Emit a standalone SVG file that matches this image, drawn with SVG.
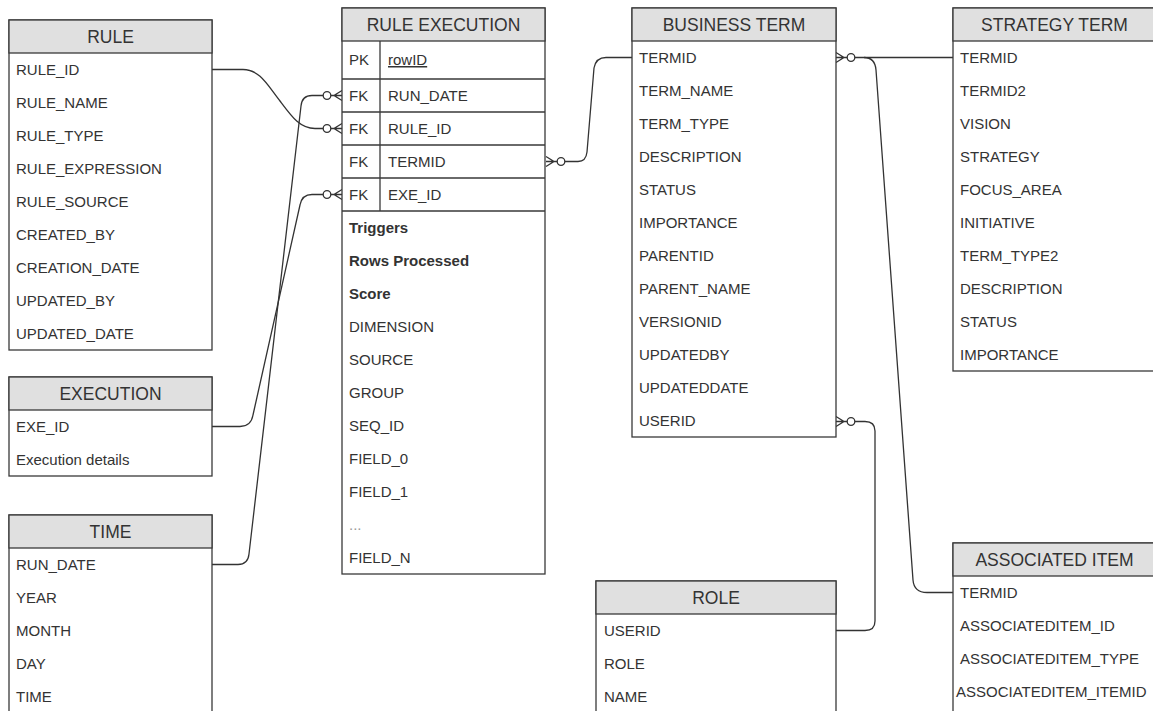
<svg xmlns="http://www.w3.org/2000/svg" width="1153" height="711" viewBox="0 0 1153 711">
<style>
  .box{fill:#ffffff;stroke:#3a3a3a;stroke-width:1.3}
  .hdr{fill:#e0e0e0;stroke:#3a3a3a;stroke-width:1.3}
  .sep{stroke:#3a3a3a;stroke-width:1.3;fill:none}
  .ht{font-family:"Liberation Sans",Arial,sans-serif;font-size:17.5px;fill:#333;text-anchor:middle}
  .t{font-family:"Liberation Sans",Arial,sans-serif;font-size:15px;fill:#333}
  .b{font-weight:bold}
  .dim{fill:#999}
  .u{text-decoration:underline}
  .ln{fill:none;stroke:#333;stroke-width:1.3}
  .cf{fill:none;stroke:#333;stroke-width:1.3}
  .cc{fill:#fff;stroke:#333;stroke-width:1.3}
</style>
<defs>
  <g id="crow">
    <path class="cf" d="M0,-5 L-8,0 L0,5 M0,0 L-11,0"/>
    <circle class="cc" cx="-15" cy="0" r="3.8"/>
  </g>
</defs>
<rect width="1153" height="711" fill="#ffffff"/>

<g id="connectors">
  <path class="ln" d="M212,69.5 H243 C260,69.5 268,86 280,101 C292,117 300,128.5 315,128.5 H323"/>
  <path class="ln" d="M212,564.5 H238 Q248,564.5 249,554 L301,106 Q302,95.5 312,95.5 H323"/>
  <path class="ln" d="M212,426.5 H240 Q251,426.5 253,415 L300,205 Q302,194.5 312,194.5 H323"/>
  <path class="ln" d="M565,161.5 H578 Q586,161.5 587,152 L594,68 Q596,57.5 606,57.5 H632"/>
  <path class="ln" d="M855,57.5 H953"/>
  <path class="ln" d="M864,57.5 Q875,57.5 876,70 L913,580 Q914,592.5 927,592.5 H953"/>
  <path class="ln" d="M855,421.5 H865 Q875,421.5 875,431 V621 Q875,630.5 865,630.5 H836"/>
  <use href="#crow" transform="translate(342,95.5)"/>
  <use href="#crow" transform="translate(342,128.5)"/>
  <use href="#crow" transform="translate(342,194.5)"/>
  <use href="#crow" transform="translate(546,161.5) scale(-1,1)"/>
  <use href="#crow" transform="translate(836,57.5) scale(-1,1)"/>
  <use href="#crow" transform="translate(836,421.5) scale(-1,1)"/>
</g>

<g id="rule">
  <rect class="box" x="9" y="20" width="203" height="330"/>
  <rect class="hdr" x="9" y="20" width="203" height="33"/>
  <text class="ht" x="110.5" y="42.5">RULE</text>
  <text class="t" x="16" y="74.5">RULE_ID</text>
  <text class="t" x="16" y="107.5">RULE_NAME</text>
  <text class="t" x="16" y="140.5">RULE_TYPE</text>
  <text class="t" x="16" y="173.5">RULE_EXPRESSION</text>
  <text class="t" x="16" y="206.5">RULE_SOURCE</text>
  <text class="t" x="16" y="239.5">CREATED_BY</text>
  <text class="t" x="16" y="272.5">CREATION_DATE</text>
  <text class="t" x="16" y="305.5">UPDATED_BY</text>
  <text class="t" x="16" y="338.5">UPDATED_DATE</text>
</g>

<g id="execution">
  <rect class="box" x="9" y="377" width="203" height="99"/>
  <rect class="hdr" x="9" y="377" width="203" height="33"/>
  <text class="ht" x="110.5" y="399.5">EXECUTION</text>
  <text class="t" x="16" y="431.5">EXE_ID</text>
  <text class="t" x="16" y="464.5">Execution details</text>
</g>

<g id="time">
  <rect class="box" x="9" y="515" width="203" height="210"/>
  <rect class="hdr" x="9" y="515" width="203" height="33"/>
  <text class="ht" x="110.5" y="537.5">TIME</text>
  <text class="t" x="16" y="569.5">RUN_DATE</text>
  <text class="t" x="16" y="602.5">YEAR</text>
  <text class="t" x="16" y="635.5">MONTH</text>
  <text class="t" x="16" y="668.5">DAY</text>
  <text class="t" x="16" y="701.5">TIME</text>
</g>

<g id="rule-execution">
  <rect class="box" x="342" y="8" width="203" height="566"/>
  <rect class="hdr" x="342" y="8" width="203" height="33"/>
  <text class="ht" x="443.5" y="30.5">RULE EXECUTION</text>
  <path class="sep" d="M342,79 H545 M342,112 H545 M342,145 H545 M342,178 H545 M342,211 H545 M380,41 V211"/>
  <text class="t" x="349" y="65">PK</text>
  <text class="t u" x="388" y="65">rowID</text>
  <text class="t" x="349" y="100.5">FK</text>
  <text class="t" x="388" y="100.5">RUN_DATE</text>
  <text class="t" x="349" y="133.5">FK</text>
  <text class="t" x="388" y="133.5">RULE_ID</text>
  <text class="t" x="349" y="166.5">FK</text>
  <text class="t" x="388" y="166.5">TERMID</text>
  <text class="t" x="349" y="199.5">FK</text>
  <text class="t" x="388" y="199.5">EXE_ID</text>
  <text class="t b" x="349" y="232.5">Triggers</text>
  <text class="t b" x="349" y="265.5">Rows Processed</text>
  <text class="t b" x="349" y="298.5">Score</text>
  <text class="t" x="349" y="331.5">DIMENSION</text>
  <text class="t" x="349" y="364.5">SOURCE</text>
  <text class="t" x="349" y="397.5">GROUP</text>
  <text class="t" x="349" y="430.5">SEQ_ID</text>
  <text class="t" x="349" y="463.5">FIELD_0</text>
  <text class="t" x="349" y="496.5">FIELD_1</text>
  <text class="t dim" x="349" y="529.5">...</text>
  <text class="t" x="349" y="562.5">FIELD_N</text>
</g>

<g id="business-term">
  <rect class="box" x="632" y="8" width="204" height="429"/>
  <rect class="hdr" x="632" y="8" width="204" height="33"/>
  <text class="ht" x="734" y="30.5">BUSINESS TERM</text>
  <text class="t" x="639" y="62.5">TERMID</text>
  <text class="t" x="639" y="95.5">TERM_NAME</text>
  <text class="t" x="639" y="128.5">TERM_TYPE</text>
  <text class="t" x="639" y="161.5">DESCRIPTION</text>
  <text class="t" x="639" y="194.5">STATUS</text>
  <text class="t" x="639" y="227.5">IMPORTANCE</text>
  <text class="t" x="639" y="260.5">PARENTID</text>
  <text class="t" x="639" y="293.5">PARENT_NAME</text>
  <text class="t" x="639" y="326.5">VERSIONID</text>
  <text class="t" x="639" y="359.5">UPDATEDBY</text>
  <text class="t" x="639" y="392.5">UPDATEDDATE</text>
  <text class="t" x="639" y="425.5">USERID</text>
</g>

<g id="strategy-term">
  <rect class="box" x="953" y="8" width="203" height="363"/>
  <rect class="hdr" x="953" y="8" width="203" height="33"/>
  <text class="ht" x="1054.5" y="30.5">STRATEGY TERM</text>
  <text class="t" x="960" y="62.5">TERMID</text>
  <text class="t" x="960" y="95.5">TERMID2</text>
  <text class="t" x="960" y="128.5">VISION</text>
  <text class="t" x="960" y="161.5">STRATEGY</text>
  <text class="t" x="960" y="194.5">FOCUS_AREA</text>
  <text class="t" x="960" y="227.5">INITIATIVE</text>
  <text class="t" x="960" y="260.5">TERM_TYPE2</text>
  <text class="t" x="960" y="293.5">DESCRIPTION</text>
  <text class="t" x="960" y="326.5">STATUS</text>
  <text class="t" x="960" y="359.5">IMPORTANCE</text>
</g>

<g id="role">
  <rect class="box" x="596" y="581" width="240" height="150"/>
  <rect class="hdr" x="596" y="581" width="240" height="33"/>
  <text class="ht" x="716" y="603.5">ROLE</text>
  <text class="t" x="604" y="635.5">USERID</text>
  <text class="t" x="604" y="668.5">ROLE</text>
  <text class="t" x="604" y="701.5">NAME</text>
</g>

<g id="associated-item">
  <rect class="box" x="953" y="543" width="203" height="190"/>
  <rect class="hdr" x="953" y="543" width="203" height="33"/>
  <text class="ht" x="1054.5" y="565.5">ASSOCIATED ITEM</text>
  <text class="t" x="960" y="597.5">TERMID</text>
  <text class="t" x="960" y="630.5">ASSOCIATEDITEM_ID</text>
  <text class="t" x="960" y="663.5">ASSOCIATEDITEM_TYPE</text>
  <text class="t" x="956" y="696.5">ASSOCIATEDITEM_ITEMID</text>
</g>
</svg>
